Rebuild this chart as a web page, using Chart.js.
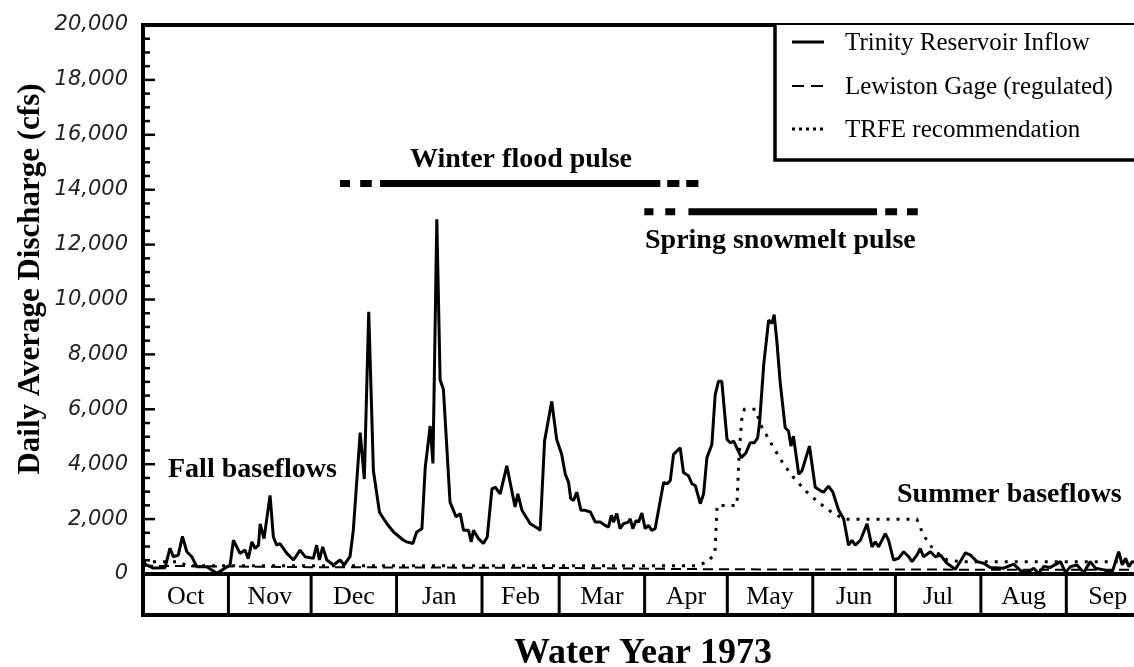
<!DOCTYPE html>
<html>
<head>
<meta charset="utf-8">
<title>Trinity River - Water Year 1973</title>
<script src="https://cdn.jsdelivr.net/npm/chart.js@4.4.0/dist/chart.umd.min.js"></script>
<style>
  html, body { margin: 0; padding: 0; background: #fff; overflow: hidden; }
  #wrap { width: 1160px; height: 667px; }
</style>
</head>
<body>
<div id="wrap"><canvas id="flowChart" width="1160" height="667"></canvas></div>
<script>
// water year months, Oct 1972 - Sep 1973
const monthNames = ['Oct', 'Nov', 'Dec', 'Jan', 'Feb', 'Mar', 'Apr', 'May', 'Jun', 'Jul', 'Aug', 'Sep'];
const monthDays = [31, 30, 31, 31, 28, 31, 30, 31, 30, 31, 31, 30];
const yTicks = [0, 2000, 4000, 6000, 8000, 10000, 12000, 14000, 16000, 18000, 20000];

// day of water year (0 = Oct 1) and daily flow in cfs
const inflowDay = [0, 3.7, 8, 9.8, 11, 12.8, 14.3, 15.9, 17.7, 19.5, 23.1, 26.8, 31.6, 32.8, 35.2, 37, 38.2, 39.5, 40.7, 41.9,
  42.5, 43.9, 46.1, 47.3, 48.5, 49.7, 52.2, 54.6, 57, 58.8, 61.8, 63, 64, 65.2, 66.7, 69.1, 71.5, 73, 75.1, 76.3,
  78.8, 80.3, 81.9, 83.6, 85.8, 88.5, 90.9, 94.5, 95.7, 97.9, 99.3, 101.2, 102.4, 104.2, 105.2, 106.6, 107.8, 109, 111.4, 113.6,
  115.1, 116.3, 118.1, 119.1, 119.9, 121.7, 123.5, 124.9, 126.6, 127.8, 129.6, 132, 135, 136, 137.5, 140.5, 143.5, 144.1, 145.7, 148.3,
  150.1, 151.9, 153.2, 154.4, 155.2, 156.2, 157.4, 158.9, 160.4, 162.3, 164.1, 165.9, 167.7, 168.9, 169.9, 170.7, 171.9, 173.1, 174.3, 176.1,
  176.8, 177.7, 178.9, 179.8, 181, 182.2, 183.4, 184.6, 185.8, 188.9, 190.1, 191.3, 192.5, 194.9, 196.1, 197.9, 199.2, 200.4, 202.2, 203.4,
  204.6, 206.4, 207.6, 208.8, 210, 211.9, 213.1, 214.3, 217.1, 218.8, 220.3, 221.8, 223, 223.7, 225.2, 227, 228.2, 229, 230, 231.2,
  233, 234.2, 235.1, 236, 237.9, 239.1, 241.8, 243.9, 245.7, 246.9, 248.7, 250.3, 252.4, 254.2, 256, 257.2, 258.4, 260.3, 262.7, 264.5,
  265.7, 266.9, 269.3, 270.5, 272.3, 274.1, 276, 277.8, 279, 280.8, 282, 283.2, 285.7, 287.5, 289.3, 291.7, 294.7, 296.5, 298.4, 300.2,
  302.6, 305, 307.4, 312.3, 315.9, 318.3, 320.8, 323.2, 324.9, 326.8, 329.2, 332.9, 334.7, 336.5, 338.9, 341.3, 343.7, 345.6, 348.6, 351.6,
  354, 355.3, 356.5, 357.7, 358.9, 365];
const inflowCfs = [400, 215, 230, 940, 630, 690, 1370, 810, 630, 265, 265, 25, 325, 1230, 750, 870, 560, 1170, 930, 1050,
  1830, 1290, 2860, 1350, 1050, 1110, 750, 510, 870, 630, 570, 1050, 510, 990, 510, 330, 510, 330, 630, 1590,
  5150, 3460, 9550, 3760, 2250, 1830, 1530, 1230, 1170, 1110, 1530, 1650, 3880, 5390, 4030, 12920, 7080, 6720, 2620, 2080,
  2200, 1590, 1590, 1170, 1590, 1290, 1110, 1350, 3100, 3160, 2920, 3940, 2440, 2920, 2320, 1830, 1650, 1590, 4850, 6290,
  4900, 4360, 3640, 3340, 2740, 2680, 2980, 2320, 2320, 2260, 1890, 1890, 1770, 1710, 2140, 1890, 2200, 1650, 1830, 1890,
  2010, 1650, 1950, 1890, 2220, 1650, 1770, 1590, 1650, 3340, 3280, 3400, 4360, 4600, 3700, 3580, 3280, 3220, 2560, 2920,
  4240, 4720, 6530, 7020, 7020, 4900, 4780, 4840, 4240, 4420, 4780, 4780, 4960, 5500, 7620, 9250, 9130, 9450, 8460, 6960,
  5330, 5210, 4660, 5020, 3640, 3760, 4660, 3160, 3040, 2980, 3200, 2980, 2320, 2010, 1050, 1230, 1050, 1230, 1830, 990,
  1170, 990, 1470, 1230, 510, 570, 810, 630, 450, 690, 930, 630, 810, 630, 690, 390, 170, 450, 770, 690,
  450, 390, 240, 210, 360, 130, 50, 210, 25, 270, 240, 450, 50, 270, 330, 50, 450, 210, 150, 50,
  810, 330, 570, 270, 450, 400];

const lewistonDay = [0, 60, 150, 212, 365];
const lewistonCfs = [300, 250, 220, 170, 150];

const trfeDay = [0, 13, 16, 201, 205, 207.5, 208.3, 215.5, 216.3, 217.3, 218.2, 222.2, 224, 228.8, 232.4, 236, 240.9, 245.7,
  250.6, 254.8, 280.8, 283.2, 286.9, 291.7, 296.5, 365];
const trfeCfs = [450, 450, 300, 300, 450, 750, 2500, 2500, 4400, 5700, 6000, 6000, 5450, 4600, 4000, 3520, 2980, 2560,
  2200, 1990, 1990, 1410, 870, 510, 450, 450];

// flow pulse windows: [start day, end day], first two and last two are the uncertain ends
const winterPulseDays = [[71.5, 75.1], [78.8, 83], [86, 187.7], [190.2, 194.6], [197.1, 201.5]];
const winterPulseLevel = 14230;
const springPulseDays = [[181.9, 185.2], [189.5, 193.1], [197.9, 266.3], [269.3, 273.6], [277.2, 281.1]];
const springPulseLevel = 13200;

const serif = '"Liberation Serif", "Times New Roman", serif';

function toPoints(days, values) {
  return days.map((d, i) => ({ x: d, y: values[i] }));
}

function pulsePoints(segments, level) {
  const pts = [];
  segments.forEach(([a, b]) => {
    pts.push({ x: a, y: level }, { x: b, y: level }, { x: b, y: null });
  });
  return pts;
}

// frame, ticks, month boxes, legend and notes
const figureDecor = {
  id: 'figureDecor',
  afterDatasetsDraw(chart) {
    const { ctx, chartArea: a, scales: { x, y } } = chart;
    ctx.save();
    ctx.strokeStyle = '#000';
    ctx.fillStyle = '#000';

    // minor ticks every 500, major on labelled values
    ctx.lineWidth = 2.5;
    for (let v = 0; v <= 20000; v += 500) {
      const py = y.getPixelForValue(v);
      const len = yTicks.includes(v) ? 12 : 7;
      ctx.beginPath();
      ctx.moveTo(a.left, py);
      ctx.lineTo(a.left + len, py);
      ctx.stroke();
    }

    ctx.font = 'italic 21px "DejaVu Sans", sans-serif';
    ctx.fillStyle = '#222';
    ctx.textAlign = 'right';
    ctx.textBaseline = 'middle';
    yTicks.forEach(v => {
      ctx.fillText(v.toLocaleString('en-US'), a.left - 15, y.getPixelForValue(v));
    });

    // plot frame
    ctx.fillStyle = '#000';
    ctx.lineWidth = 4;
    ctx.strokeRect(a.left, a.top, a.right - a.left, a.bottom - a.top);

    // month boxes under the axis
    const boxBottom = 615;
    ctx.beginPath();
    ctx.moveTo(a.left, a.bottom);
    ctx.lineTo(a.left, boxBottom);
    ctx.lineTo(a.right, boxBottom);
    ctx.lineTo(a.right, a.bottom);
    ctx.stroke();
    ctx.font = '26px ' + serif;
    ctx.textAlign = 'center';
    ctx.textBaseline = 'middle';
    let start = 0;
    monthNames.forEach((m, i) => {
      const end = start + monthDays[i];
      const x0 = x.getPixelForValue(start);
      const x1 = x.getPixelForValue(end);
      ctx.lineWidth = 3;
      ctx.beginPath();
      ctx.moveTo(x1, a.bottom);
      ctx.lineTo(x1, boxBottom);
      ctx.stroke();
      ctx.fillText(m, (x0 + x1) / 2, 597);
      start = end;
    });

    // axis titles
    ctx.font = 'bold 36px ' + serif;
    ctx.textBaseline = 'alphabetic';
    ctx.fillText('Water Year 1973', 643, 663);
    ctx.save();
    ctx.translate(39, 279);
    ctx.rotate(-Math.PI / 2);
    ctx.font = 'bold 31px ' + serif;
    ctx.fillText('Daily Average Discharge (cfs)', 0, 0);
    ctx.restore();

    // pulse and baseflow notes
    ctx.font = 'bold 28px ' + serif;
    ctx.textBaseline = 'alphabetic';
    ctx.textAlign = 'center';
    ctx.fillText('Winter flood pulse', 521, 167);
    ctx.textAlign = 'left';
    ctx.fillText('Spring snowmelt pulse', 645, 248);
    ctx.fillText('Fall baseflows', 168, 477);
    ctx.fillText('Summer baseflows', 897, 502);

    // legend box
    const lx = 775, ly = 160;
    ctx.fillStyle = '#fff';
    ctx.fillRect(lx, a.top, a.right - lx, ly - a.top);
    ctx.fillStyle = '#000';
    ctx.lineWidth = 3.5;
    ctx.beginPath();
    ctx.moveTo(a.right, ly);
    ctx.lineTo(lx, ly);
    ctx.lineTo(lx, a.top);
    ctx.stroke();
    ctx.font = '25px ' + serif;
    const rows = [42, 86, 129];
    chart.data.datasets.slice(0, 3).forEach((ds, i) => {
      ctx.save();
      ctx.lineWidth = ds.borderWidth;
      ctx.setLineDash(ds.legendDash);
      ctx.beginPath();
      ctx.moveTo(792, rows[i]);
      ctx.lineTo(824, rows[i]);
      ctx.stroke();
      ctx.restore();
      ctx.textBaseline = 'middle';
      ctx.fillText(ds.label, 845, rows[i] + 1);
    });
    ctx.restore();
  }
};

const pulseStyle = {
  borderColor: '#000',
  borderWidth: 7,
  borderCapStyle: 'butt',
  pointRadius: 0,
  spanGaps: false,
  clip: false
};

new Chart(document.getElementById('flowChart'), {
  type: 'line',
  data: {
    datasets: [
      {
        label: 'Trinity Reservoir Inflow',
        data: toPoints(inflowDay, inflowCfs),
        borderColor: '#000',
        borderWidth: 3,
        borderJoinStyle: 'bevel',
        legendDash: [],
        pointRadius: 0,
        order: 0
      },
      {
        label: 'Lewiston Gage (regulated)',
        data: toPoints(lewistonDay, lewistonCfs),
        borderColor: '#000',
        borderWidth: 2,
        borderDash: [10, 6],
        legendDash: [12, 7],
        pointRadius: 0,
        order: 2
      },
      {
        label: 'TRFE recommendation',
        data: toPoints(trfeDay, trfeCfs),
        borderColor: '#000',
        borderWidth: 3,
        borderDash: [3, 7],
        legendDash: [3, 4],
        pointRadius: 0,
        order: 1
      },
      Object.assign({ label: 'Winter flood pulse', data: pulsePoints(winterPulseDays, winterPulseLevel) }, pulseStyle),
      Object.assign({ label: 'Spring snowmelt pulse', data: pulsePoints(springPulseDays, springPulseLevel) }, pulseStyle)
    ]
  },
  options: {
    responsive: false,
    animation: false,
    layout: { padding: { left: 143, right: 11, top: 25, bottom: 93 } },
    elements: { line: { tension: 0 } },
    plugins: {
      legend: { display: false },
      tooltip: { enabled: false }
    },
    scales: {
      x: { type: 'linear', min: 0, max: 365, display: false },
      y: { min: 0, max: 20000, display: false }
    }
  },
  plugins: [figureDecor]
});
</script>
</body>
</html>
